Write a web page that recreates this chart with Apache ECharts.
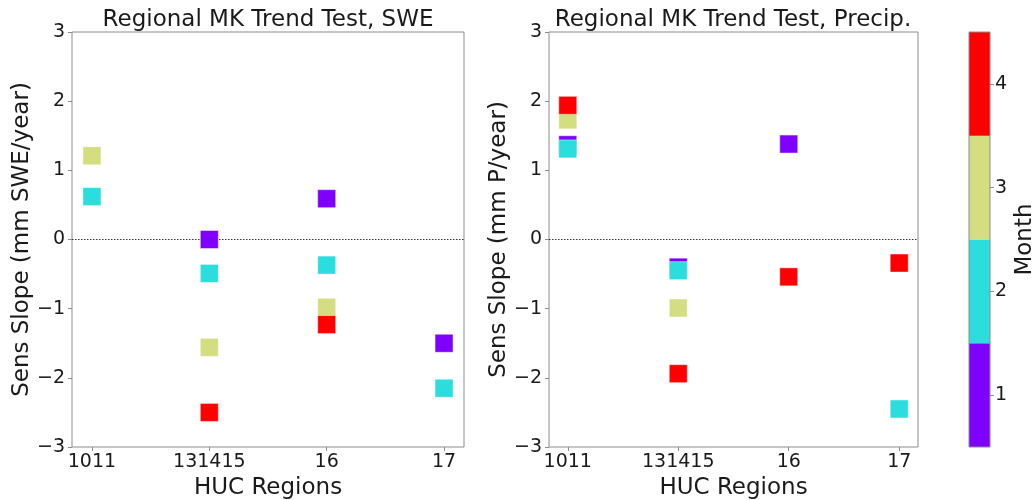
<!DOCTYPE html>
<html>
<head>
<meta charset="utf-8">
<script src="https://cdn.jsdelivr.net/npm/echarts@6/dist/echarts.min.js"></script>
<style>
  html, body { margin: 0; padding: 0; background: #fff; }
  #chart { width: 1034px; height: 500px; }
</style>
</head>
<body>
<div id="chart"></div>
<script>
// HUC regions along the x axis (positions 0..3)
const regions = ['1011', '131415', '16', '17'];
const months = [1, 2, 3, 4];
const monthColors = ['#8000ff', '#2bdddd', '#d4dd80', '#ff0000'];
const yTicks = [-3, -2, -1, 0, 1, 2, 3];

// Sen's slope of SWE per region, one array per month (null = no value)
const sweMonth1 = [null, 0.0, 0.59, -1.50];
const sweMonth2 = [0.62, -0.49, -0.37, -2.15];
const sweMonth3 = [1.21, -1.56, -0.98, null];
const sweMonth4 = [null, -2.50, -1.23, null];

// Sen's slope of precipitation per region, one array per month
const prMonth1 = [1.37, -0.40, 1.38, null];
const prMonth2 = [1.31, -0.45, null, -2.45];
const prMonth3 = [1.73, -0.99, null, null];
const prMonth4 = [1.94, -1.94, -0.54, -0.34];

const sweByMonth = [sweMonth1, sweMonth2, sweMonth3, sweMonth4];
const prByMonth = [prMonth1, prMonth2, prMonth3, prMonth4];

const FONT = 'DejaVu Sans';
const SPINE = '#8c8c8c';
const TXT = '#1a1a1a';

function toPoints(vals) {
  const pts = [];
  vals.forEach((v, i) => { if (v !== null) pts.push([i, v]); });
  return pts;
}

function xAxisFor(gridIndex) {
  return {
    type: 'value', gridIndex: gridIndex, min: -0.17, max: 3.17, position: 'bottom',
    name: 'HUC Regions', nameLocation: 'middle', nameGap: 22,
    nameTextStyle: { fontFamily: FONT, fontSize: 23, color: TXT },
    axisLine: { show: false, onZero: false },
    splitLine: { show: false },
    axisTick: { show: true, inside: false, length: 4, customValues: [0, 1, 2, 3],
                lineStyle: { color: SPINE, width: 1 } },
    axisLabel: { customValues: [0, 1, 2, 3], margin: 6,
                 fontFamily: FONT, fontSize: 19, color: TXT,
                 formatter: v => regions[Math.round(v)] }
  };
}

function yAxisFor(gridIndex, title, gap) {
  return {
    type: 'value', gridIndex: gridIndex, min: -3, max: 3, interval: 1, position: 'left',
    name: title, nameLocation: 'middle', nameGap: gap,
    nameTextStyle: { fontFamily: FONT, fontSize: 23, color: TXT },
    axisLine: { show: false, onZero: false },
    splitLine: { show: false },
    axisTick: { show: true, inside: false, length: 4, lineStyle: { color: SPINE, width: 1 } },
    axisLabel: { margin: 7, fontFamily: FONT, fontSize: 19, color: TXT,
                 formatter: v => (v < 0 ? '\u2212' + Math.abs(v) : String(v)) }
  };
}

const series = [];
function addPanel(byMonth, gridIndex) {
  byMonth.forEach((vals, m) => {
    const s = {
      type: 'scatter', xAxisIndex: gridIndex, yAxisIndex: gridIndex,
      symbol: 'rect', symbolSize: 18,
      itemStyle: { color: monthColors[m], opacity: 1,
                   borderColor: 'rgba(255,255,255,0.45)', borderWidth: 1 },
      data: toPoints(vals), z: 3 + m, silent: true
    };
    if (m === 0) {
      s.markLine = {
        silent: true, symbol: 'none', z: 1,
        label: { show: false },
        lineStyle: { color: '#333', type: [1.5, 1.5], width: 1 },
        data: [{ yAxis: 0 }]
      };
    }
    series.push(s);
  });
}
addPanel(sweByMonth, 0);
addPanel(prByMonth, 1);

// colour bar: one band per month on its own axis
series.push({
  type: 'scatter', xAxisIndex: 2, yAxisIndex: 2, data: [], silent: true,
  markArea: {
    silent: true,
    data: months.map((m, i) => [
      { yAxis: m - 0.5, itemStyle: { color: monthColors[i] } },
      { yAxis: m + 0.5 }
    ])
  }
});

const gridBase = { show: true, borderColor: SPINE, borderWidth: 1, backgroundColor: 'transparent',
                   containLabel: false, outerBoundsMode: 'none' };

const option = {
  animation: false,
  backgroundColor: '#fff',
  grid: [
    Object.assign({ left: 72, top: 32, width: 392, height: 415 }, gridBase),
    Object.assign({ left: 549, top: 32, width: 369, height: 415 }, gridBase),
    Object.assign({ left: 969, top: 32, width: 21, height: 415, z: 10 }, gridBase)
  ],
  graphic: [
    { type: 'text', x: 268, y: 20, style: { text: 'Regional MK Trend Test, SWE', align: 'center', verticalAlign: 'middle',
      fontFamily: FONT, fontSize: 23, fill: TXT } },
    { type: 'text', x: 733, y: 20, style: { text: 'Regional MK Trend Test, Precip.', align: 'center', verticalAlign: 'middle',
      fontFamily: FONT, fontSize: 23, fill: TXT } }
  ],
  xAxis: [
    xAxisFor(0),
    xAxisFor(1),
    { type: 'value', gridIndex: 2, min: 0, max: 1, show: false }
  ],
  yAxis: [
    yAxisFor(0, 'Sens Slope (mm SWE/year)', 36),
    yAxisFor(1, 'Sens Slope (mm P/year)', 33),
    {
      type: 'value', gridIndex: 2, position: 'right', min: 0.5, max: 4.5,
      name: 'Month', nameLocation: 'middle', nameGap: 24, nameRotate: 90,
      nameTextStyle: { fontFamily: FONT, fontSize: 23, color: TXT },
      axisLine: { show: false, onZero: false }, splitLine: { show: false },
      axisTick: { show: true, inside: false, length: 4, customValues: months,
                  lineStyle: { color: SPINE, width: 1 } },
      axisLabel: { customValues: months, margin: 5, fontFamily: FONT, fontSize: 19, color: TXT }
    }
  ],
  series: series
};

const chart = echarts.init(document.getElementById('chart'), null, { renderer: 'canvas' });
chart.setOption(option);
</script>
</body>
</html>
